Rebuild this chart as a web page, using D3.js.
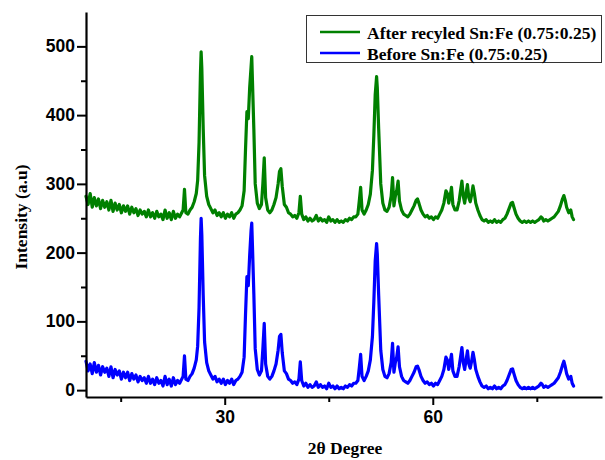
<!DOCTYPE html>
<html>
<head>
<meta charset="utf-8">
<script src="https://cdn.jsdelivr.net/npm/d3@7"></script>
<style>
  body { margin: 0; background: #fff; }
  .tick text { font-family: "Liberation Sans", Arial, sans-serif; font-weight: bold; font-size: 17.5px; fill: #000; }
  .ttl { font-family: "Liberation Serif", "Times New Roman", serif; font-weight: bold; font-size: 17.5px; fill: #000; }
</style>
</head>
<body>
<div class="wrapper"></div>
<script>
// 2theta grid shared by both scans
var twoTheta = [
  10.0,10.3,10.6,10.9,11.2,11.5,11.8,12.1,12.4,12.7,
  13.0,13.3,13.6,13.9,14.2,14.5,14.8,15.1,15.4,15.7,
  16.0,16.3,16.6,16.9,17.2,17.5,17.8,18.1,18.4,18.7,
  19.0,19.3,19.6,19.9,20.2,20.5,20.8,21.1,21.4,21.7,
  22.0,22.3,22.6,22.9,23.2,23.5,23.8,24.0,24.2,24.4,
  24.7,25.0,25.3,25.6,25.9,26.1,26.3,26.5,26.6,26.7,
  26.9,27.1,27.4,27.7,28.0,28.3,28.6,28.9,29.2,29.5,
  29.8,30.1,30.4,30.7,31.0,31.3,31.6,31.9,32.2,32.5,
  32.8,33.0,33.2,33.4,33.6,33.8,33.9,34.0,34.2,34.4,
  34.7,35.0,35.3,35.5,35.7,35.9,36.2,36.5,36.8,37.1,
  37.4,37.7,37.9,38.1,38.3,38.6,38.9,39.2,39.5,39.8,
  40.1,40.4,40.7,40.9,41.1,41.4,41.7,42.0,42.3,42.6,
  42.9,43.2,43.5,43.8,44.1,44.4,44.7,45.0,45.3,45.6,
  45.9,46.2,46.5,46.8,47.1,47.4,47.7,48.0,48.3,48.6,
  48.9,49.2,49.4,49.6,49.8,50.1,50.4,50.7,51.0,51.3,
  51.5,51.7,51.9,52.0,52.2,52.5,52.8,53.1,53.4,53.7,
  54.0,54.2,54.4,54.6,54.8,55.0,55.2,55.5,55.8,56.1,
  56.4,56.7,57.0,57.3,57.6,57.8,58.0,58.3,58.6,58.9,
  59.2,59.5,59.8,60.1,60.4,60.7,61.0,61.3,61.6,61.9,
  62.1,62.3,62.5,62.7,62.9,63.2,63.5,63.8,64.0,64.2,
  64.4,64.6,64.8,65.0,65.2,65.4,65.6,65.8,66.0,66.2,
  66.5,66.8,67.1,67.4,67.7,68.0,68.3,68.6,68.9,69.2,
  69.5,69.8,70.1,70.4,70.7,71.0,71.3,71.5,71.7,72.0,
  72.3,72.6,72.9,73.2,73.5,73.8,74.1,74.4,74.7,75.0,
  75.3,75.6,75.8,76.0,76.3,76.6,76.9,77.2,77.5,77.8,
  78.1,78.4,78.7,78.9,79.1,79.3,79.6,79.9,80.1,80.3
];

var afterRecycled = [
  282,270,286,266,280,268,278,264,276,266,
  274,262,276,260,272,262,270,258,268,260,
  268,256,266,258,264,254,262,256,260,252,
  262,252,258,250,260,252,256,248,262,250,
  258,248,260,250,256,252,258,262,292,258,
  256,262,266,274,286,305,360,460,492,468,
  380,312,282,270,264,258,262,254,258,252,
  258,250,256,252,258,250,256,258,262,268,
  290,350,405,395,440,470,485,450,380,300,
  272,264,270,300,338,280,262,258,262,270,
  280,300,318,322,296,270,266,258,256,252,
  254,250,258,282,256,248,252,246,250,246,
  248,254,246,250,246,248,244,252,246,248,
  244,248,244,246,244,248,246,250,248,252,
  252,256,275,295,262,256,262,270,285,320,
  370,430,456,440,380,300,272,262,260,266,
  282,309,268,282,290,304,275,262,256,254,
  252,256,262,268,276,278,272,262,256,252,
  254,250,252,248,252,250,256,262,272,290,
  286,272,282,295,270,262,262,275,290,304,
  282,272,286,299,280,274,284,297,286,272,
  262,254,248,246,248,244,246,244,248,244,
  246,244,248,250,256,264,272,273,266,256,
  250,246,244,246,244,246,244,246,244,246,
  248,252,250,246,248,246,248,250,252,256,
  260,268,278,283,276,266,258,262,252,248
];

var beforeRecycled = [
  42,28,38,24,40,26,36,22,34,26,
  32,20,34,18,30,22,28,16,26,18,
  26,14,24,16,22,12,20,14,18,10,
  20,10,16,8,18,10,14,6,20,8,
  16,6,18,8,14,10,16,20,50,16,
  14,20,24,32,44,64,120,220,250,226,
  138,70,40,28,22,16,20,12,16,10,
  16,8,14,10,16,8,14,16,20,26,
  48,110,165,152,196,232,243,210,140,60,
  30,22,28,60,97,38,20,16,20,28,
  38,58,78,81,54,28,24,16,14,10,
  12,8,16,41,14,6,10,4,8,4,
  6,12,4,8,4,6,2,10,4,6,
  2,6,2,4,2,6,4,8,6,10,
  10,14,32,52,20,14,20,28,44,78,
  128,188,213,198,138,58,30,20,18,24,
  40,68,26,40,48,63,34,20,14,12,
  10,14,20,26,34,35,30,20,14,10,
  12,8,10,6,10,8,14,20,30,48,
  44,30,40,52,28,20,20,34,48,62,
  40,30,44,57,38,32,42,55,44,30,
  20,12,6,4,6,2,4,2,6,2,
  4,2,6,8,14,22,30,31,24,14,
  8,4,2,4,2,4,2,4,2,4,
  6,10,8,4,6,4,6,8,10,14,
  18,26,36,42,34,24,16,20,10,6
];

var xMajor = [30, 60];
var xMinor = [15, 45, 75];
var yMajor = [0, 100, 200, 300, 400, 500];
var yMinor = [50, 150, 250, 350, 450];

var seriesNames = ["After recyled Sn:Fe (0.75:0.25)", "Before Sn:Fe (0.75:0.25)"];
var seriesColors = ["#008000", "#0000ff"];

var W = 605, H = 460;
var x = d3.scaleLinear().domain([10, 84.4]).range([86, 602]);
var y = d3.scaleLinear().domain([-10, 550]).range([397, 12]);

var svg = d3.select(".wrapper").append("svg")
    .attr("width", W)
    .attr("height", H);

var line = d3.line()
    .x(function(d) { return x(d[0]); })
    .y(function(d) { return y(d[1]); });

var series = [afterRecycled, beforeRecycled];
series.forEach(function(vals, i) {
    var pts = twoTheta.map(function(t, j) { return [t, vals[j]]; });
    svg.append("path")
        .datum(pts)
        .attr("d", line)
        .attr("fill", "none")
        .attr("stroke", seriesColors[i])
        .attr("stroke-width", 3.2)
        .attr("stroke-linejoin", "round")
        .attr("stroke-linecap", "round");
});

// minor ticks first, then major axes on top
svg.append("g")
    .attr("transform", "translate(0,397)")
    .call(d3.axisBottom(x).tickValues(xMinor).tickSize(5).tickFormat(""))
    .call(function(g) { g.select(".domain").remove(); });
svg.append("g")
    .attr("transform", "translate(86,0)")
    .call(d3.axisLeft(y).tickValues(yMinor).tickSize(5).tickFormat(""))
    .call(function(g) { g.select(".domain").remove(); });

var xAxis = svg.append("g")
    .attr("transform", "translate(0,397)")
    .call(d3.axisBottom(x).tickValues(xMajor).tickSize(8).tickSizeOuter(0).tickPadding(6));
var yAxis = svg.append("g")
    .attr("transform", "translate(86,0)")
    .call(d3.axisLeft(y).tickValues(yMajor).tickSize(9).tickSizeOuter(0).tickPadding(2));

svg.selectAll(".tick line").attr("stroke", "#000").attr("stroke-width", 2);
svg.selectAll(".domain").attr("stroke", "#000").attr("stroke-width", 2.2);
svg.selectAll(".tick text").attr("font-family", null).attr("font-size", null);

svg.append("text")
    .attr("class", "ttl")
    .attr("text-anchor", "middle")
    .attr("x", 345)
    .attr("y", 454)
    .text("2θ Degree");

svg.append("text")
    .attr("class", "ttl")
    .attr("text-anchor", "middle")
    .attr("transform", "translate(27,217)rotate(-90)")
    .text("Intensity (a.u)");

// legend
var lg = svg.append("g");
lg.append("rect")
    .attr("x", 306.5).attr("y", 15.5)
    .attr("width", 295).attr("height", 47)
    .attr("fill", "#fff")
    .attr("stroke", "#333")
    .attr("stroke-width", 1);
seriesNames.forEach(function(name, i) {
    var yy = 32 + i * 21;
    lg.append("line")
        .attr("x1", 320).attr("x2", 360)
        .attr("y1", yy).attr("y2", yy)
        .attr("stroke", seriesColors[i])
        .attr("stroke-width", 2.5);
    lg.append("text")
        .attr("class", "ttl")
        .attr("x", 367)
        .attr("y", yy + 6.5)
        .text(name);
});
</script>
</body>
</html>
